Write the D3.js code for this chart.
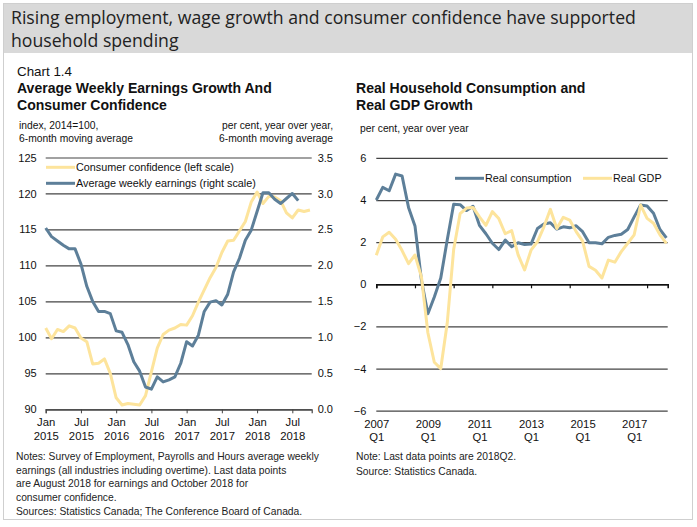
<!DOCTYPE html>
<html><head><meta charset="utf-8">
<script src="https://cdn.jsdelivr.net/npm/d3@7"></script>
<style>body{margin:0;background:#fff}svg{display:block}</style>
</head><body>
<svg id="c" width="697" height="527"></svg>
<script>
// ---------- DATA ----------
// Consumer confidence index (2014=100), monthly Jan 2015 - Oct 2018
const ccValues = [101.3, 99.8, 101.1, 100.8, 101.6, 101.3, 99.9, 99.4, 96.3, 96.4, 97.0, 95.0,
  91.6, 90.6, 90.8, 90.7, 90.6, 91.9, 95.2, 98.5, 100.4, 101.0, 101.3, 101.8,
  101.7, 103.0, 104.9, 106.6, 108.3, 109.7, 111.8, 113.4, 113.5, 114.8, 116.1, 118.8,
  120.2, 118.6, 119.6, 119.5, 119.0, 117.3, 116.6, 117.7, 117.5, 117.7];
// Average weekly earnings growth (%), monthly Jan 2015 - Aug 2018
const earningsValues = [2.52, 2.40, 2.34, 2.28, 2.23, 2.23, 2.02, 1.71, 1.50, 1.36, 1.36, 1.33,
  1.09, 1.07, 0.90, 0.66, 0.53, 0.31, 0.28, 0.45, 0.38, 0.41, 0.45, 0.64,
  0.94, 0.88, 1.03, 1.36, 1.49, 1.51, 1.45, 1.60, 1.91, 2.10, 2.35, 2.49,
  2.75, 3.01, 3.01, 2.92, 2.86, 2.93, 3.00, 2.90];
const leftXTickMonths = [0, 6, 12, 18, 24, 30, 36, 42];
const leftXTickLabels = [["Jan","2015"],["Jul","2015"],["Jan","2016"],["Jul","2016"],["Jan","2017"],["Jul","2017"],["Jan","2018"],["Jul","2018"]];
const leftYTicks = [90, 95, 100, 105, 110, 115, 120, 125];
const rightYTicks = [0, 0.5, 1.0, 1.5, 2.0, 2.5, 3.0, 3.5];

// Real consumption and real GDP growth (% y/y), quarterly 2007Q1 - 2018Q2
const consumptionValues = [4.0, 4.6, 4.44, 5.23, 5.14, 3.65, 2.77, 0.2, -1.4, -0.6, 0.3, 2.1,
  3.8, 3.78, 3.5, 3.7, 2.8, 2.4, 1.95, 1.65, 2.1, 1.78, 1.97, 1.89,
  1.91, 2.65, 2.86, 2.92, 2.62, 2.73, 2.68, 2.78, 2.5, 1.97, 1.97, 1.92,
  2.23, 2.32, 2.38, 2.6, 3.2, 3.76, 3.72, 3.37, 2.6, 2.2];
const gdpValues = [1.38, 2.25, 2.47, 2.14, 1.6, 0.98, 1.39, 0.35, -2.3, -3.7, -4.0, -1.85,
  1.65, 3.35, 3.62, 3.65, 3.2, 2.8, 3.45, 3.12, 2.4, 2.55, 1.4, 0.68,
  1.62, 2.02, 2.73, 3.56, 2.65, 3.18, 3.05, 2.5, 2.05, 0.85, 0.67, 0.3,
  1.15, 1.05, 1.55, 1.95, 2.35, 3.76, 3.13, 2.9, 2.35, 1.94];
const quarterTickMarks = [0, 6, 12, 18, 24, 30, 36, 42];
const quarterLabelPos = [0, 8, 16, 24, 32, 40];
const quarterLabels = [["2007","Q1"],["2009","Q1"],["2011","Q1"],["2013","Q1"],["2015","Q1"],["2017","Q1"]];
const growthYTicks = [-6, -4, -2, 0, 2, 4, 6];

// ---------- STYLE ----------
const BLUE = "#5d7f99", YELLOW = "#fde49c", GRID = "#444";
const SANS = "'Liberation Sans', Arial, sans-serif";
const GOTHIC = "'Open Sans', 'DejaVu Sans', sans-serif";

const svg = d3.select("#c");

function fit(sel, target) {
  const w = sel.node().getComputedTextLength();
  const fs = parseFloat(sel.attr("font-size"));
  sel.attr("font-size", (fs * target / w).toFixed(2));
  return sel;
}

// frame + title band
svg.append("rect").attr("x", 3.5).attr("y", 3.5).attr("width", 689).attr("height", 516)
  .attr("fill", "#fff").attr("stroke", "#cfcfcf");
svg.append("rect").attr("x", 4).attr("y", 4).attr("width", 688).attr("height", 49).attr("fill", "#d9d9d9");

const t1 = svg.append("text").attr("x", 11).attr("y", 24).attr("font-family", GOTHIC).attr("font-size", 18)
  .attr("fill", "#222").text("Rising employment, wage growth and consumer confidence have supported");
fit(t1, 625);
svg.append("text").attr("x", 11).attr("y", 47).attr("font-family", GOTHIC).attr("font-size", t1.attr("font-size"))
  .attr("fill", "#222").text("household spending");

// chart headings
const ch = svg.append("text").attr("x", 17).attr("y", 76).attr("font-family", SANS).attr("font-size", 13)
  .attr("fill", "#111").text("Chart 1.4");
fit(ch, 55);
const h1 = svg.append("text").attr("x", 17).attr("y", 93).attr("font-family", SANS).attr("font-weight", "bold")
  .attr("font-size", 14).attr("fill", "#111").text("Average Weekly Earnings Growth And");
fit(h1, 255);
svg.append("text").attr("x", 17).attr("y", 110).attr("font-family", SANS).attr("font-weight", "bold")
  .attr("font-size", h1.attr("font-size")).attr("fill", "#111").text("Consumer Confidence");
svg.append("text").attr("x", 356).attr("y", 93).attr("font-family", SANS).attr("font-weight", "bold")
  .attr("font-size", h1.attr("font-size")).attr("fill", "#111").text("Real Household Consumption and");
svg.append("text").attr("x", 356).attr("y", 110).attr("font-family", SANS).attr("font-weight", "bold")
  .attr("font-size", h1.attr("font-size")).attr("fill", "#111").text("Real GDP Growth");

// unit labels
const unitFS = 10.3;
function unit(x, y, s, anchor) {
  svg.append("text").attr("x", x).attr("y", y).attr("font-family", SANS).attr("font-size", unitFS)
    .attr("text-anchor", anchor || "start").attr("fill", "#111").text(s);
}
unit(19, 129, "index, 2014=100,");
unit(19, 142, "6-month moving average");
unit(333, 129, "per cent, year over year,", "end");
unit(333, 142, "6-month moving average", "end");
unit(360, 132, "per cent, year over year");

// ---------- LEFT CHART ----------
const L = { x0: 45.7, x1: 311.7, yTop: 157.5, yBot: 409.3 };
const xL = d3.scaleLinear().domain([0, 45.3]).range([L.x0, L.x1]);
const yL = d3.scaleLinear().domain([90, 125]).range([L.yBot, L.yTop]);
const yE = d3.scaleLinear().domain([0, 3.5]).range([L.yBot, L.yTop]);

const gl = svg.append("g");
const axL = gl.append("g").attr("transform", `translate(${L.x0},0)`)
  .call(d3.axisLeft(yL).tickValues(leftYTicks).tickSize(-(L.x1 - L.x0)).tickPadding(9).tickFormat(d3.format("d")));
axL.select(".domain").remove();
axL.selectAll("line").attr("stroke", GRID).attr("stroke-width", 1.2);
axL.selectAll("text").attr("font-family", SANS).attr("font-size", 11).attr("fill", "#111");

const axR = gl.append("g").attr("transform", `translate(${L.x1},0)`)
  .call(d3.axisRight(yE).tickValues(rightYTicks).tickSize(0).tickPadding(6).tickFormat(d3.format(".1f")));
axR.select(".domain").remove();
axR.selectAll("text").attr("font-family", SANS).attr("font-size", 11).attr("fill", "#111");

const axB = gl.append("g").attr("transform", `translate(0,${L.yBot})`)
  .call(d3.axisBottom(xL).tickValues(leftXTickMonths).tickSize(4).tickFormat(""));
axB.select(".domain").attr("stroke", GRID).attr("stroke-width", 1.2);
axB.selectAll("line").attr("stroke", GRID);
axB.selectAll(".tick").each(function(d, i) {
  const t = d3.select(this).append("text").attr("font-family", SANS).attr("font-size", 11.3)
    .attr("fill", "#111").attr("text-anchor", "middle");
  t.append("tspan").attr("x", 0).attr("y", 17).text(leftXTickLabels[i][0]);
  t.append("tspan").attr("x", 0).attr("y", 31).text(leftXTickLabels[i][1]);
});

const lineCC = d3.line().x((d, i) => xL(i)).y(d => yL(d));
const lineE = d3.line().x((d, i) => xL(i)).y(d => yE(d));
gl.append("path").datum(ccValues).attr("d", lineCC).attr("fill", "none").attr("stroke", YELLOW)
  .attr("stroke-width", 3).attr("stroke-linejoin", "round");
gl.append("path").datum(earningsValues).attr("d", lineE).attr("fill", "none").attr("stroke", BLUE)
  .attr("stroke-width", 3).attr("stroke-linejoin", "round");

// legends
function legend(x, y, color, label) {
  svg.append("line").attr("x1", x).attr("x2", x + 29).attr("y1", y).attr("y2", y)
    .attr("stroke", color).attr("stroke-width", 3);
  svg.append("text").attr("x", x + 30).attr("y", y + 4).attr("font-family", SANS).attr("font-size", 10.8)
    .attr("fill", "#111").text(label);
}
legend(46, 167.3, YELLOW, "Consumer confidence (left scale)");
legend(46, 183.3, BLUE, "Average weekly earnings (right scale)");

// ---------- RIGHT CHART ----------
const R = { x0: 376.3, x1: 667.7, yTop: 157.9, yBot: 410.7 };
const xR = d3.scaleLinear().domain([0, 45.2]).range([R.x0, R.x1]);
const yR = d3.scaleLinear().domain([-6, 6]).range([R.yBot, R.yTop]);

const gr = svg.append("g");
const axG = gr.append("g").attr("transform", `translate(${R.x0},0)`)
  .call(d3.axisLeft(yR).tickValues(growthYTicks).tickSize(-(R.x1 - R.x0)).tickPadding(10).tickFormat(d3.format("d")));
axG.select(".domain").remove();
axG.selectAll("line").attr("stroke", GRID).attr("stroke-width", 1.2);
axG.selectAll("text").attr("font-family", SANS).attr("font-size", 11).attr("fill", "#111");

const axZ = gr.append("g").attr("transform", `translate(0,${yR(0)})`)
  .call(d3.axisBottom(xR).tickValues(quarterTickMarks).tickSize(4).tickFormat(""));
axZ.select(".domain").attr("stroke", "#111").attr("stroke-width", 1.6);
axZ.selectAll("line").attr("stroke", "#111").attr("stroke-width", 1.2);

const axQ = gr.append("g").attr("transform", `translate(0,${R.yBot})`)
  .call(d3.axisBottom(xR).tickValues(quarterLabelPos).tickSize(0).tickFormat(""));
axQ.select(".domain").remove();
axQ.selectAll(".tick").each(function(d, i) {
  const t = d3.select(this).append("text").attr("font-family", SANS).attr("font-size", 11.3)
    .attr("fill", "#111").attr("text-anchor", "middle");
  t.append("tspan").attr("x", 0).attr("y", 17).text(quarterLabels[i][0]);
  t.append("tspan").attr("x", 0).attr("y", 30.5).text(quarterLabels[i][1]);
});

const lineQ = d3.line().x((d, i) => xR(i)).y(d => yR(d));
gr.append("path").datum(consumptionValues).attr("d", lineQ).attr("fill", "none").attr("stroke", BLUE)
  .attr("stroke-width", 3).attr("stroke-linejoin", "round");
gr.append("path").datum(gdpValues).attr("d", lineQ).attr("fill", "none").attr("stroke", YELLOW)
  .attr("stroke-width", 3).attr("stroke-linejoin", "round");

legend(455, 178.3, BLUE, "Real consumption");
legend(583, 178.3, YELLOW, "Real GDP");

// ---------- NOTES ----------
const notesLeft = [
  "Notes: Survey of Employment, Payrolls and Hours average weekly",
  "earnings (all industries including overtime). Last data points",
  "are August 2018 for earnings and October 2018 for",
  "consumer confidence."
];
const nl0 = svg.append("text").attr("x", 16).attr("y", 460).attr("font-family", SANS).attr("font-size", 10)
  .attr("fill", "#222").text(notesLeft[0]);
fit(nl0, 303);
const nfs = nl0.attr("font-size");
notesLeft.slice(1).forEach((s, i) => {
  svg.append("text").attr("x", 16).attr("y", 473.5 + i * 13.5).attr("font-family", SANS).attr("font-size", nfs)
    .attr("fill", "#222").text(s);
});
svg.append("text").attr("x", 16).attr("y", 515).attr("font-family", SANS).attr("font-size", nfs)
  .attr("fill", "#222").text("Sources: Statistics Canada; The Conference Board of Canada.");
svg.append("text").attr("x", 356).attr("y", 460).attr("font-family", SANS).attr("font-size", nfs)
  .attr("fill", "#222").text("Note: Last data points are 2018Q2.");
svg.append("text").attr("x", 356).attr("y", 475).attr("font-family", SANS).attr("font-size", nfs)
  .attr("fill", "#222").text("Source: Statistics Canada.");
</script>
</body></html>
